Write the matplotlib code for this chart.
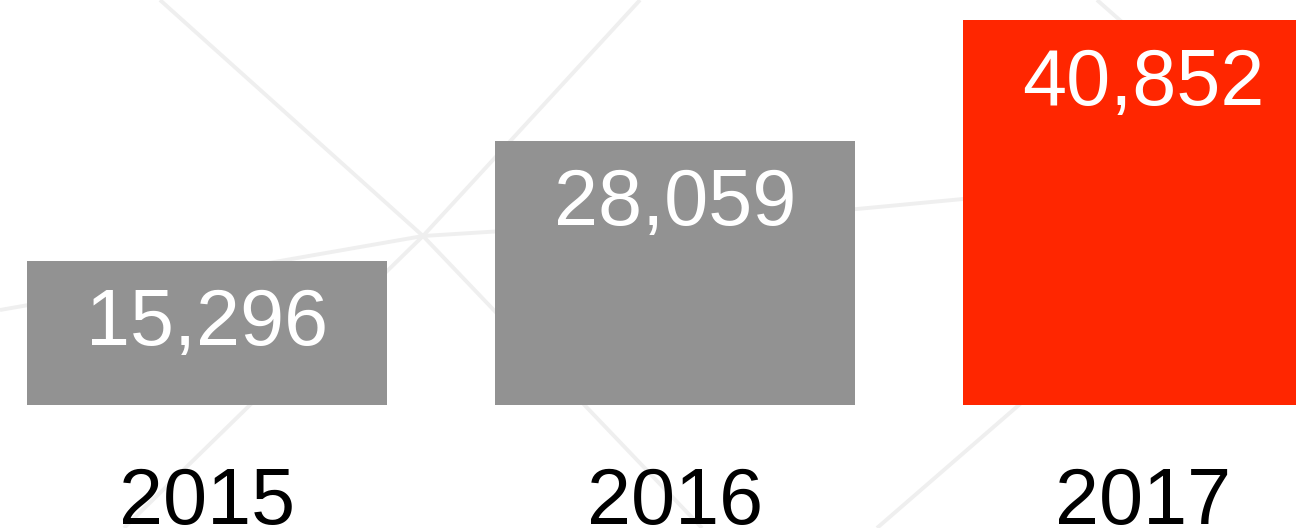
import matplotlib.pyplot as plt
import numpy as np

years = ["2015", "2016", "2017"]
values = [15296, 28059, 40852]
bar_colors = ["#929292", "#929292", "#ff2600"]

# decorative network lines behind the bars (figure pixel coords, y down)
bg_lines = [
    [(160, 0), (423, 236)],
    [(640, 0), (423, 236)],
    [(124, 528), (423, 236)],
    [(0, 310), (423, 236)],
    [(423, 236), (702, 528)],
    [(423, 236), (857, 209), (963, 199), (1290, 170)],
    [(1097, 0), (1290, 170)],
    [(877, 528), (1290, 170)],
]

W, H = 1296, 528
fig = plt.figure(figsize=(W / 100, H / 100), dpi=100)
plt.rcParams["font.family"] = ["Liberation Sans", "DejaVu Sans"]

# background layer
bg = fig.add_axes([0, 0, 1, 1])
bg.set_xlim(0, W)
bg.set_ylim(H, 0)
bg.axis("off")
for pts in bg_lines:
    xs, ys = zip(*pts)
    bg.plot(xs, ys, color="#efefef", lw=2.8, solid_capstyle="butt")

# bar layer: bottom of axes is the bar baseline
base_px = 405
ax = fig.add_axes([0, (H - base_px) / H, 1, base_px / H])
ax.patch.set_alpha(0)
x = np.arange(len(years))
ax.bar(x, values, width=360 / 468, color=bar_colors)

ax.set_xlim(-207 / 468, 2 + (W - 1143) / 468)
ax.set_ylim(0, base_px * 106.2)

for xi, v in zip(x, values):
    ax.annotate(f"{v:,}", (xi, v), xytext=(0, -19), textcoords="offset points",
                ha="center", va="top", color="white", fontsize=57)

ax.set_xticks(x)
ax.set_xticklabels(years, fontsize=57, color="black")
ax.tick_params(axis="x", length=0, pad=44)
ax.set_yticks([])
for s in ax.spines.values():
    s.set_visible(False)

fig.savefig("out.png", dpi=100)
